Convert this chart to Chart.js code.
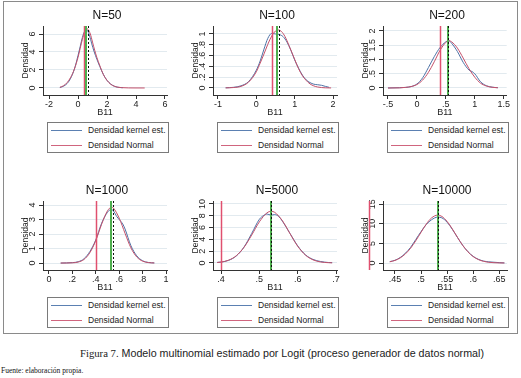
<!DOCTYPE html>
<html><head><meta charset="utf-8">
<script src="https://cdn.jsdelivr.net/npm/chart.js@4.4.0/dist/chart.umd.min.js"></script>
<style>
html,body{margin:0;padding:0;background:#fff;}
#wrap{position:relative;width:521px;height:378px;overflow:hidden;background:#fff;font-family:"Liberation Sans",Arial,sans-serif;}
#frame{position:absolute;left:3px;top:1px;width:515px;height:333px;border:1px solid #8a8a8a;box-sizing:border-box;}
.panel{position:absolute;width:170px;height:160px;}
.panel canvas{position:absolute;left:0;top:0;}
.ttl{position:absolute;left:57px;top:7px;width:100px;text-align:center;font-size:12px;line-height:16px;color:#111;white-space:nowrap;}
.leg{position:absolute;left:47px;top:122px;width:122px;height:31px;border:1px solid #7a7a7a;box-sizing:border-box;background:#fff;}
.leg .row{position:absolute;left:0;height:10px;width:100%;}
.leg .ln{position:absolute;left:3px;top:5px;width:31px;height:0;border-top:1px solid;}
.leg .tx{position:absolute;left:40px;top:0;line-height:10px;font-size:8.5px;color:#222;white-space:nowrap;}
#cap{position:absolute;left:80px;top:347px;font-size:10.7px;color:#222;white-space:nowrap;line-height:12px;}
#cap .fig{font-family:"Liberation Serif","Times New Roman",serif;}
#src{position:absolute;left:1px;top:366px;font-size:7.5px;color:#111;font-family:"Liberation Serif","Times New Roman",serif;white-space:nowrap;line-height:10px;}
</style>
</head><body>
<div id="wrap">
  <div id="frame"></div>
  <div id="cap"><span class="fig">Figura 7.</span> Modelo multinomial estimado por Logit (proceso generador de datos normal)</div>
  <div id="src">Fuente: elaboración propia.</div>
</div>
<script>
// ---------- DATA ----------
const panelTitles = ['N=50','N=100','N=200','N=1000','N=5000','N=10000'];
const legendLabels = ['Densidad kernel est.','Densidad Normal'];
const xAxisTitle = 'B11';
const yAxisTitle = 'Densidad';

// N=50
const kernelX50 = [-1.25,-1.0,-0.75,-0.5,-0.25,0,0.15,0.3,0.45,0.55,0.65,0.8,0.95,1.1,1.3,1.5,1.75,2.0,2.25,2.5,2.75,3.1];
const kernelY50 = [0.05,0.2,0.5,1.1,2.1,3.6,4.6,5.6,6.3,6.55,6.4,5.8,4.9,4.1,3.2,2.4,1.5,0.85,0.45,0.2,0.08,0.03];
const normalX50 = [-1.25,-1.0,-0.75,-0.5,-0.25,0,0.15,0.3,0.45,0.6,0.7,0.85,1.0,1.15,1.3,1.5,1.75,2.0,2.25,2.5,2.75,3.0,3.5,4.0,4.6];
const normalY50 = [0.08,0.25,0.6,1.2,2.1,3.4,4.4,5.4,6.2,6.6,6.5,6.0,5.1,4.2,3.4,2.5,1.5,0.85,0.42,0.2,0.09,0.04,0.01,0.005,0.002];
// N=100
const kernelX100 = [-0.8,-0.6,-0.4,-0.2,0,0.1,0.2,0.3,0.4,0.5,0.6,0.7,0.8,0.9,1.0,1.1,1.2,1.3,1.4,1.5,1.6,1.7,1.8,1.9];
const kernelY100 = [0.003,0.012,0.04,0.12,0.33,0.5,0.72,0.92,1.01,1.0,0.99,0.95,0.85,0.7,0.52,0.37,0.24,0.15,0.1,0.07,0.06,0.05,0.03,0.012];
const normalX100 = [-0.8,-0.6,-0.4,-0.2,0,0.1,0.2,0.3,0.4,0.5,0.57,0.65,0.75,0.85,1.0,1.1,1.2,1.3,1.4,1.5,1.6,1.7,1.8,1.95];
const normalY100 = [0.002,0.008,0.03,0.11,0.3,0.46,0.63,0.81,0.96,1.055,1.075,1.05,0.95,0.79,0.53,0.36,0.23,0.14,0.075,0.038,0.018,0.008,0.003,0.001];
// N=200
const kernelX200 = [-0.5,-0.3,-0.2,-0.1,0,0.1,0.2,0.3,0.4,0.5,0.55,0.6,0.7,0.8,0.9,0.95,1.0,1.1,1.2,1.3,1.4];
const kernelY200 = [0.0,0.01,0.02,0.05,0.14,0.36,0.72,1.1,1.42,1.62,1.66,1.57,1.28,0.9,0.63,0.58,0.5,0.22,0.08,0.03,0.01];
const normalX200 = [-0.5,-0.3,-0.2,-0.1,0,0.1,0.2,0.3,0.4,0.5,0.55,0.6,0.7,0.8,0.9,1.0,1.1,1.2,1.3,1.4];
const normalY200 = [0.0,0.005,0.02,0.05,0.12,0.28,0.55,0.92,1.32,1.6,1.66,1.62,1.4,1.05,0.68,0.38,0.17,0.07,0.025,0.008];
// N=1000
const kernelX1000 = [0.1,0.2,0.25,0.3,0.35,0.4,0.45,0.5,0.53,0.55,0.58,0.6,0.63,0.65,0.7,0.75,0.8,0.85,0.9];
const kernelY1000 = [0.0,0.03,0.09,0.3,0.8,1.6,2.75,3.5,3.7,3.6,3.2,3.0,2.7,2.35,1.2,0.5,0.16,0.04,0.01];
const normalX1000 = [0.1,0.2,0.25,0.3,0.35,0.4,0.45,0.5,0.535,0.55,0.6,0.65,0.7,0.75,0.8,0.85,0.9];
const normalY1000 = [0.0,0.015,0.07,0.25,0.72,1.55,2.68,3.6,3.85,3.8,3.1,2.05,1.05,0.42,0.13,0.03,0.005];
// N=5000
const kernelX5000 = [0.39,0.40,0.42,0.44,0.46,0.48,0.50,0.51,0.52,0.53,0.54,0.55,0.56,0.58,0.60,0.62,0.64,0.66,0.68,0.69];
const kernelY5000 = [0.1,0.15,0.45,1.2,2.7,5.0,7.4,8.0,8.3,8.1,8.2,7.9,7.1,5.0,2.9,1.4,0.6,0.25,0.08,0.05];
const normalX5000 = [0.39,0.40,0.42,0.44,0.46,0.48,0.50,0.52,0.531,0.54,0.56,0.58,0.60,0.62,0.64,0.66,0.68,0.69];
const normalY5000 = [0.08,0.15,0.48,1.24,2.66,4.73,6.97,8.5,8.75,8.58,7.17,4.96,2.84,1.35,0.53,0.17,0.05,0.025];
// N=10000
const kernelX10000 = [0.44,0.45,0.46,0.47,0.48,0.49,0.50,0.51,0.52,0.532,0.54,0.55,0.56,0.57,0.58,0.59,0.60,0.61,0.62,0.63,0.64,0.65,0.66];
const kernelY10000 = [0.35,0.7,1.4,2.5,4.0,6.0,8.0,9.8,11.0,11.7,11.5,10.4,8.6,6.5,4.5,2.9,1.7,0.95,0.5,0.3,0.2,0.1,0.03];
const normalX10000 = [0.44,0.45,0.46,0.47,0.48,0.49,0.50,0.51,0.52,0.532,0.54,0.55,0.56,0.57,0.58,0.59,0.60,0.61,0.62,0.63,0.64,0.65,0.66];
const normalY10000 = [0.31,0.66,1.3,2.32,3.78,5.69,7.83,9.9,11.47,12.2,11.87,10.6,8.69,6.53,4.5,2.85,1.65,0.88,0.43,0.19,0.08,0.03,0.01];

// reference lines: true value (red), mean estimate (green), dashed estimate (black)
const trueValue = 0.4;
const greenLineValues = [0.57, 0.55, 0.535, 0.53, 0.531, 0.532];
const dashedLineValues = [0.72, 0.59, 0.535, 0.55, 0.531, 0.532];

// axis ticks and labels
const xTicks = [[-2,0,2,4,6],[-1,0,1,2],[-0.5,0,0.5,1,1.5],[0,0.2,0.4,0.6,0.8,1],[0.4,0.5,0.6,0.7],[0.45,0.5,0.55,0.6,0.65]];
const xTickLabels = [['-2','0','2','4','6'],['-1','0','1','2'],['-.5','0','.5','1','1.5'],['0','.2','.4','.6','.8','1'],['.4','.5','.6','.7'],['.45','.5','.55','.6','.65']];
const yTicks = [[0,2,4,6],[0,0.2,0.4,0.6,0.8,1],[0,0.5,1,1.5,2],[0,1,2,3,4],[0,2,4,6,8,10],[0,5,10,15]];
const yTickLabels = [['0','2','4','6'],['0','.2','.4','.6','.8','1'],['0','.5','1','1.5','2'],['0','1','2','3','4'],['0','2','4','6','8','10'],['0','5','10','15']];
// axis ranges
const xRanges = [[-2.414,6.138],[-1.13,2.104],[-0.586,1.552],[-0.051,1.0085],[0.379,0.7026],[0.427,0.665]];
const yRanges = [[-0.778,6.889],[-0.13,1.148],[-0.246,2.175],[-0.48,4.28],[-1.19,10.5],[-1.78,15.8]];

const kernelXs = [kernelX50,kernelX100,kernelX200,kernelX1000,kernelX5000,kernelX10000];
const kernelYs = [kernelY50,kernelY100,kernelY200,kernelY1000,kernelY5000,kernelY10000];
const normalXs = [normalX50,normalX100,normalX200,normalX1000,normalX5000,normalX10000];
const normalYs = [normalY50,normalY100,normalY200,normalY1000,normalY5000,normalY10000];

// ---------- STYLE ----------
const FONT = '"Liberation Sans", Arial, sans-serif';
const BLUE = '#4d72a6';
const RED = '#c4506a';
const LEG_BLUE = '#5b80b2';
const LEG_RED = '#d0657e';
const REF_RED = '#e0506f';
const GREEN = '#4fae4f';
const AXIS = '#333333';
const GRID = '#e2eaef';

const refLinePlugin = {
  id: 'refLines',
  afterDatasetsDraw(chart, args, opts) {
    const {ctx, chartArea} = chart;
    const xs = chart.scales.x;
    ctx.save();
    (opts.lines || []).forEach(l => {
      const px = Math.round(xs.getPixelForValue(l.value)) + (l.width % 2 ? 0.5 : 0);
      ctx.beginPath();
      ctx.strokeStyle = l.color;
      ctx.lineWidth = l.width;
      ctx.setLineDash(l.dash || []);
      ctx.moveTo(px, chartArea.top);
      ctx.lineTo(px, chartArea.bottom);
      ctx.stroke();
    });
    ctx.restore();
  }
};

const measureCtx = document.createElement('canvas').getContext('2d');
measureCtx.font = '9px ' + FONT;

const wrap = document.getElementById('wrap');
const panelLefts = [0, 170, 340, 0, 170, 340];
const panelTops = [0, 0, 0, 175, 175, 175];

panelTitles.forEach((title, i) => {
  const panel = document.createElement('div');
  panel.className = 'panel';
  panel.style.left = panelLefts[i] + 'px';
  panel.style.top = panelTops[i] + 'px';
  const cv = document.createElement('canvas');
  cv.width = 170; cv.height = 120;
  cv.style.width = '170px'; cv.style.height = '120px';
  panel.appendChild(cv);
  const ttl = document.createElement('div');
  ttl.className = 'ttl';
  ttl.textContent = title;
  panel.appendChild(ttl);
  const leg = document.createElement('div');
  leg.className = 'leg';
  leg.innerHTML =
    '<div class="row" style="top:2px"><div class="ln" style="border-top-color:' + LEG_BLUE + '"></div><div class="tx">' + legendLabels[0] + '</div></div>' +
    '<div class="row" style="top:16.5px"><div class="ln" style="border-top-color:' + LEG_RED + '"></div><div class="tx">' + legendLabels[1] + '</div></div>';
  panel.appendChild(leg);
  wrap.appendChild(panel);

  const widest = Math.max(...yTickLabels[i].map(t => measureCtx.measureText(t).width));
  const yPad = Math.max(0, 6 - widest / 2);

  const kernelPts = kernelXs[i].map((x, k) => ({x, y: kernelYs[i][k]}));
  const normalPts = normalXs[i].map((x, k) => ({x, y: normalYs[i][k]}));

  new Chart(cv, {
    type: 'line',
    data: {
      datasets: [
        {label: legendLabels[1], data: normalPts, borderColor: RED, borderWidth: 1, pointRadius: 0, cubicInterpolationMode: 'monotone', fill: false},
        {label: legendLabels[0], data: kernelPts, borderColor: BLUE, borderWidth: 1, pointRadius: 0, cubicInterpolationMode: 'monotone', fill: false}
      ]
    },
    options: {
      responsive: false,
      animation: false,
      devicePixelRatio: 1,
      layout: {padding: {left: 0, right: 3, top: 26, bottom: 0}},
      plugins: {
        legend: {display: false},
        tooltip: {enabled: false},
        title: {display: false},
        refLines: {lines: [
          {value: trueValue, color: REF_RED, width: 1.5},
          {value: greenLineValues[i], color: GREEN, width: 2},
          {value: dashedLineValues[i], color: '#111', width: 1, dash: [2, 2]}
        ]}
      },
      scales: {
        x: {
          type: 'linear', min: xRanges[i][0], max: xRanges[i][1],
          afterBuildTicks: s => { s.ticks = xTicks[i].map(v => ({value: v})); },
          afterFit: s => { s.height = 25; },
          grid: {drawOnChartArea: false, drawTicks: true, tickLength: 4, tickColor: AXIS},
          border: {display: true, color: AXIS, width: 1},
          ticks: {autoSkip: false, maxRotation: 0, minRotation: 0, padding: 0, color: '#222', font: {family: FONT, size: 9},
                  callback: (v, k) => xTickLabels[i][k]},
          title: {display: true, text: xAxisTitle, color: '#222', font: {family: FONT, size: 9, lineHeight: 1.2}, padding: {top: 0, bottom: 1.6}}
        },
        y: {
          type: 'linear', min: yRanges[i][0], max: yRanges[i][1],
          afterBuildTicks: s => { s.ticks = yTicks[i].map(v => ({value: v})); },
          afterFit: s => { s.width = 43; },
          grid: {color: GRID, lineWidth: 1, drawTicks: true, tickLength: 4, tickColor: AXIS},
          border: {display: true, color: AXIS, width: 1},
          ticks: {autoSkip: false, minRotation: 90, maxRotation: 90, crossAlign: 'center', padding: yPad, color: '#222', font: {family: FONT, size: 9},
                  callback: (v, k) => yTickLabels[i][k]},
          title: {display: true, text: yAxisTitle, color: '#222', font: {family: FONT, size: 8.5, lineHeight: 1.2}, padding: {top: 20.4, bottom: 0}}
        }
      }
    },
    plugins: [refLinePlugin]
  });
});
</script>
</body></html>
